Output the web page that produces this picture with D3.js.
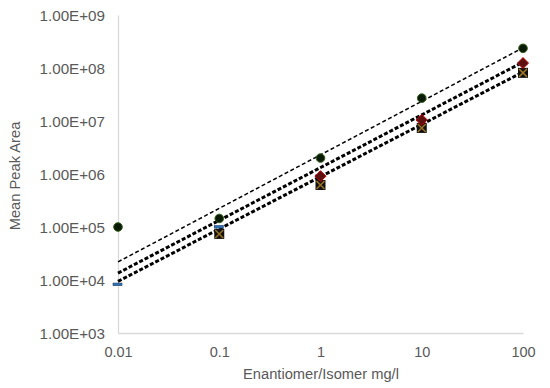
<!DOCTYPE html>
<html><head><meta charset="utf-8">
<script src="https://cdn.jsdelivr.net/npm/d3@7"></script>
<style>body{margin:0;background:#fff}text{font-family:"Liberation Sans",Arial,sans-serif;fill:#595959}</style>
</head><body><svg id="c" width="550" height="388"></svg>
<script>
const xValues = [0.01, 0.1, 1, 10, 100];
const xTickLabels = ["0.01", "0.1", "1", "10", "100"];
const yTickValues = [1e3, 1e4, 1e5, 1e6, 1e7, 1e8, 1e9];
const yTickLabels = ["1.00E+03","1.00E+04","1.00E+05","1.00E+06","1.00E+07","1.00E+08","1.00E+09"];
const seriesBlueDash = [8.2e3, 1.0e5, 9.0e5, 1.05e7, 1.2e8];
const seriesCircle  = [1.0e5, 1.45e5, 2.0e6, 2.7e7, 2.35e8];
const seriesDiamond = [null, null, 9.1e5, 1.05e7, 1.24e8];
const seriesSquareX = [null, 7.4e4, 6.2e5, 7.4e6, 8.1e7];
// power trendlines y = a * x^b
const trendCoef = [2.3e6, 1.32e6, 8.9e5];
const trendExp  = [1.01, 0.995, 0.9875];

const svg = d3.select("#c");
const x = d3.scaleLog().domain([0.01, 100]).range([118, 523]);
const y = d3.scaleLog().domain([1e3, 1e9]).range([333, 15]);

// axes
const xa = svg.append("g").attr("transform","translate(0,333)")
  .call(d3.axisBottom(x).tickValues(xValues).tickSize(0).tickPadding(14)
    .tickFormat((d,i)=>xTickLabels[i]));
const ya = svg.append("g").attr("transform","translate(118,0)")
  .call(d3.axisLeft(y).tickValues(yTickValues).tickSize(0).tickPadding(13)
    .tickFormat((d,i)=>yTickLabels[i]));
[xa, ya].forEach(g=>{
  g.select(".domain").attr("stroke","#d9d9d9").attr("stroke-width",1.3);
  g.selectAll("text").style("font-size","14.5px").attr("fill","#595959")
   .style("font-family","'Liberation Sans',Arial,sans-serif");
});
ya.selectAll("text").attr("dy","0.35em").style("font-size","15.2px");

svg.append("text").attr("x",321).attr("y",379).attr("text-anchor","middle")
  .style("font-size","14.7px").text("Enantiomer/Isomer mg/l");
svg.append("text").attr("transform","translate(20,176) rotate(-90)").attr("text-anchor","middle")
  .style("font-size","14.7px").text("Mean Peak Area");

// trendlines
const trendWidths = [1.5, 3, 3];
const trendDash = ["4,2.5", "4,2", "4,2"];
trendCoef.forEach((a,i)=>{
  const pts = [xValues[0], xValues[xValues.length-1]].map(v=>[x(v), y(a*Math.pow(v,trendExp[i]))]);
  svg.append("path").attr("d", d3.line()(pts)).attr("fill","none")
    .attr("stroke","#000").attr("stroke-width",trendWidths[i]).attr("stroke-dasharray",trendDash[i]);
});

function pts(series){ return xValues.map((v,i)=>({x:v,y:series[i]})).filter(d=>d.y!=null); }

// blue dash markers
svg.selectAll(".bd").data(pts(seriesBlueDash)).join("rect")
  .attr("x",d=>x(d.x)-5).attr("y",d=>y(d.y)-1.5).attr("width",9).attr("height",2.6)
  .attr("fill","#2e75b6").attr("stroke","#1f3864").attr("stroke-width",0.6);
// square-X markers
const sq = svg.selectAll(".sq").data(pts(seriesSquareX)).join("g")
  .attr("transform",d=>`translate(${x(d.x)},${y(d.y)})`);
sq.append("rect").attr("x",-5).attr("y",-5).attr("width",10).attr("height",10).attr("fill","#111");
sq.append("path").attr("d","M-4,-4L4,4M4,-4L-4,4").attr("stroke","#9c7424").attr("stroke-width",1.5);
// diamonds
svg.selectAll(".dm").data(pts(seriesDiamond)).join("path")
  .attr("transform",d=>`translate(${x(d.x)},${y(d.y)})`)
  .attr("d","M0,-5.5L5.5,0L0,5.5L-5.5,0Z").attr("fill","#5c1010").attr("stroke","#c00000").attr("stroke-width",1);
// circles
svg.selectAll(".ci").data(pts(seriesCircle)).join("circle")
  .attr("cx",d=>x(d.x)).attr("cy",d=>y(d.y)).attr("r",4.3)
  .attr("fill","#0b1a04").attr("stroke","#2e5e12").attr("stroke-width",1);
</script></body></html>
